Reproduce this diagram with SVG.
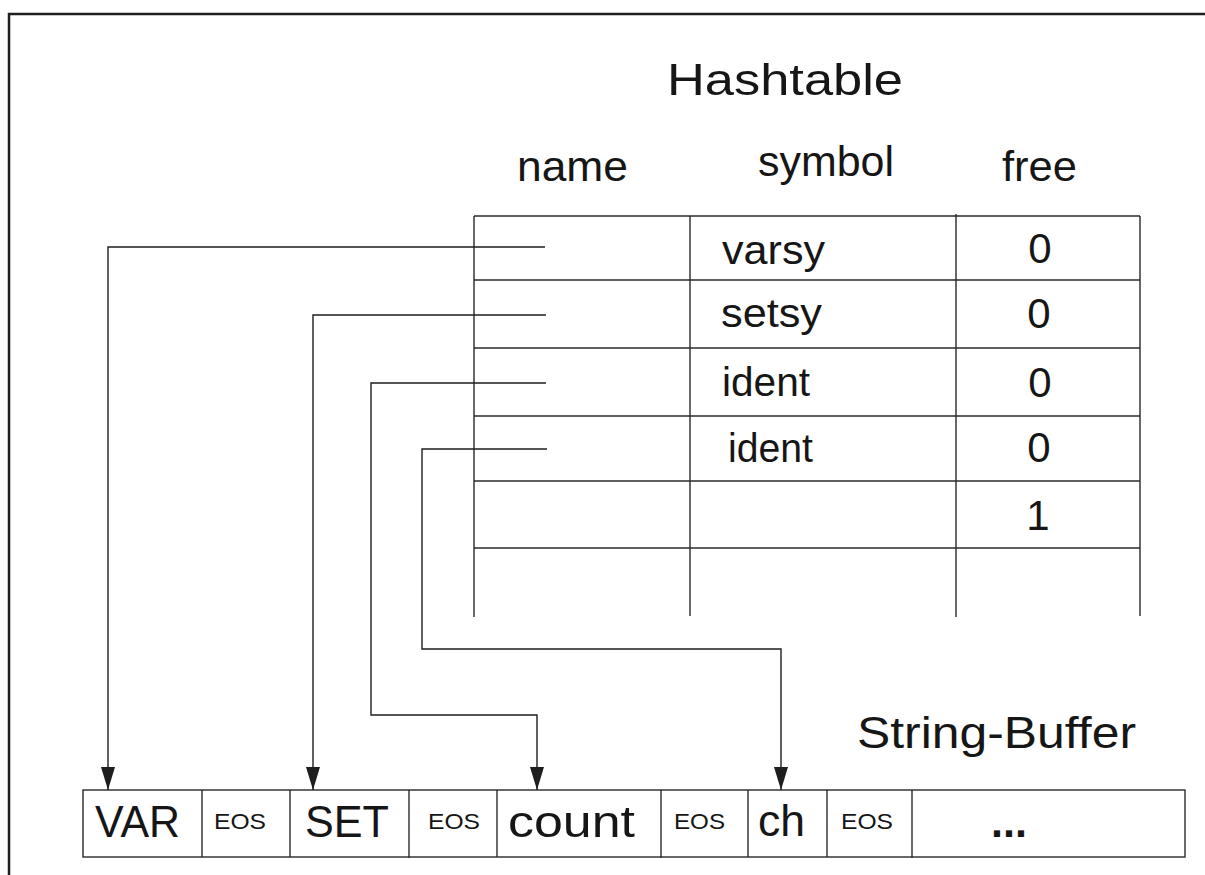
<svg xmlns="http://www.w3.org/2000/svg" width="1205" height="875" viewBox="0 0 1205 875">
  <style>
    .frame { stroke: #1e1e1e; stroke-width: 2.5; fill: none; }
    .grid { stroke: #2a2a2a; stroke-width: 1.4; fill: none; }
    .link { stroke: #1e1e1e; stroke-width: 1.4; fill: none; }
    .arrow { marker-end: url(#head); }
    text { font-family: "Liberation Sans", Arial, Helvetica, sans-serif; fill: #161616; }
    .title { font-size: 44px; }
    .head { font-size: 42px; }
    .cell { font-size: 40px; }
    .num { font-size: 42px; text-anchor: middle; }
    .big { font-size: 45px; }
    .eos { font-size: 22px; }
  </style>
  <defs>
    <marker id="head" viewBox="0 0 23 14" refX="23" refY="7" markerWidth="23" markerHeight="14" markerUnits="userSpaceOnUse" orient="auto">
      <path d="M0,0 L23,7 L0,14 Z" fill="#1e1e1e"/>
    </marker>
  </defs>

  <rect width="1205" height="875" fill="#ffffff"/>

  <!-- outer frame (top and left edges) -->
  <path class="frame" d="M9,875 V14 H1205"/>

  <!-- hash table -->
  <g id="hashtable">
    <text class="title" x="667" y="95" textLength="236" lengthAdjust="spacingAndGlyphs">Hashtable</text>
    <text class="head" x="517" y="181" textLength="111" lengthAdjust="spacingAndGlyphs">name</text>
    <text class="head" x="758" y="176" textLength="136" lengthAdjust="spacingAndGlyphs">symbol</text>
    <text class="head" x="1002" y="181" textLength="75" lengthAdjust="spacingAndGlyphs">free</text>

    <g class="grid">
      <line x1="474" y1="216" x2="1140" y2="216"/>
      <line x1="474" y1="280" x2="1140" y2="280"/>
      <line x1="474" y1="348" x2="1140" y2="348"/>
      <line x1="474" y1="416" x2="1140" y2="416"/>
      <line x1="474" y1="481" x2="1140" y2="481"/>
      <line x1="474" y1="548" x2="1140" y2="548"/>
      <line x1="474" y1="216" x2="474" y2="617"/>
      <line x1="690" y1="216" x2="690" y2="616"/>
      <line x1="956" y1="214" x2="956" y2="617"/>
      <line x1="1140" y1="216" x2="1140" y2="616"/>
    </g>

    <g id="row1">
      <text class="cell" x="722" y="264" textLength="103" lengthAdjust="spacingAndGlyphs">varsy</text>
      <text class="num" x="1040" y="263">0</text>
    </g>
    <g id="row2">
      <text class="cell" x="721" y="327" textLength="101" lengthAdjust="spacingAndGlyphs">setsy</text>
      <text class="num" x="1039" y="328">0</text>
    </g>
    <g id="row3">
      <text class="cell" x="722" y="396" textLength="88" lengthAdjust="spacingAndGlyphs">ident</text>
      <text class="num" x="1040" y="397">0</text>
    </g>
    <g id="row4">
      <text class="cell" x="728" y="462" textLength="85" lengthAdjust="spacingAndGlyphs">ident</text>
      <text class="num" x="1039" y="462">0</text>
    </g>
    <g id="row5">
      <text class="num" x="1038" y="530">1</text>
    </g>
  </g>

  <!-- string buffer -->
  <g id="string-buffer">
    <text class="title" x="857" y="748" textLength="279" lengthAdjust="spacingAndGlyphs">String-Buffer</text>
    <g class="grid">
      <rect x="83" y="790" width="1102" height="67"/>
      <line x1="202" y1="790" x2="202" y2="857"/>
      <line x1="290" y1="790" x2="290" y2="857"/>
      <line x1="409" y1="790" x2="409" y2="858"/>
      <line x1="497" y1="790" x2="497" y2="857"/>
      <line x1="661" y1="790" x2="661" y2="858"/>
      <line x1="748" y1="790" x2="748" y2="857"/>
      <line x1="827" y1="790" x2="827" y2="857"/>
      <line x1="912" y1="790" x2="912" y2="858"/>
    </g>
    <text class="big" x="95" y="837" textLength="85" lengthAdjust="spacingAndGlyphs">VAR</text>
    <text class="eos" x="214" y="829" textLength="52" lengthAdjust="spacingAndGlyphs">EOS</text>
    <text class="big" x="305" y="837" textLength="84" lengthAdjust="spacingAndGlyphs">SET</text>
    <text class="eos" x="428" y="829" textLength="52" lengthAdjust="spacingAndGlyphs">EOS</text>
    <text class="big" x="508" y="837" font-size="49" textLength="127" lengthAdjust="spacingAndGlyphs">count</text>
    <text class="eos" x="674" y="829" textLength="51" lengthAdjust="spacingAndGlyphs">EOS</text>
    <text class="big" x="758" y="836" font-size="47" textLength="47" lengthAdjust="spacingAndGlyphs">ch</text>
    <text class="eos" x="841" y="829" textLength="52" lengthAdjust="spacingAndGlyphs">EOS</text>
    <text class="big" x="991" y="837" font-weight="bold" textLength="36" lengthAdjust="spacingAndGlyphs">...</text>
  </g>

  <!-- name pointers from the table into the buffer -->
  <g id="connectors" class="link">
    <path class="arrow" d="M545,247 H108 V790"/>
    <path class="arrow" d="M546,315 H313 V790"/>
    <path class="arrow" d="M546,383 H371 V715 H537 V790"/>
    <path class="arrow" d="M547,449 H422 V649 H781 V790"/>
  </g>
</svg>
